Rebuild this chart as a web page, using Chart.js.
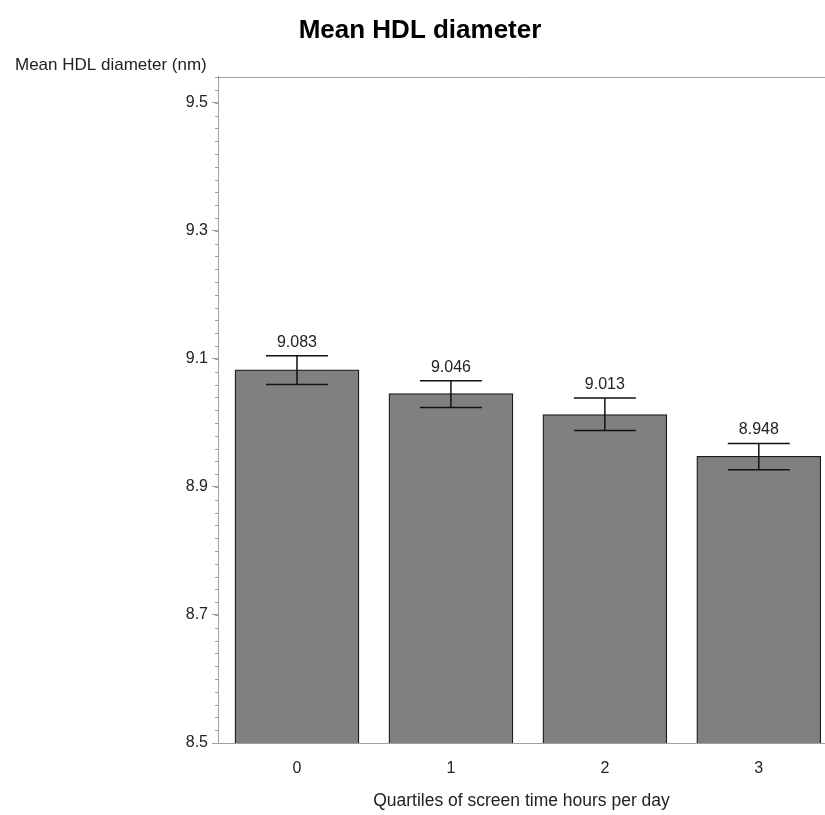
<!DOCTYPE html>
<html><head><meta charset="utf-8">
<script src="https://cdn.jsdelivr.net/npm/chart.js@4.4.0/dist/chart.umd.min.js"></script>
<style>html,body{margin:0;padding:0;background:#fff}#wrap{width:825px;height:815px}</style>
</head><body><div id="wrap"><canvas id="c" width="825" height="815"></canvas></div>
<script>
const categories = [0, 1, 2, 3];
const meanValues = [9.083, 9.046, 9.013, 8.948];
const upperLimits = [9.105, 9.066, 9.039, 8.968];
const lowerLimits = [9.060, 9.024, 8.988, 8.927];
const yTickValues = [8.5, 8.7, 8.9, 9.1, 9.3, 9.5];
const yMinorStep = 0.02;

const FONT = "'Liberation Sans', Arial, sans-serif";
const AXIS_COLOR = '#a0a0a0';

const extrasPlugin = {
  id: 'extras',
  afterDraw(chart) {
    const ctx = chart.ctx;
    const ys = chart.scales.y;
    const ca = chart.chartArea;
    ctx.save();
    ctx.strokeStyle = AXIS_COLOR;
    ctx.lineWidth = 1;
    ctx.beginPath();
    ctx.moveTo(ca.left, Math.round(ca.top) + 0.5);
    ctx.lineTo(ca.right, Math.round(ca.top) + 0.5);
    ctx.stroke();
    const n = Math.round((ys.max - ys.min) / yMinorStep);
    ctx.beginPath();
    for (let k = 0; k <= n; k++) {
      const v = ys.min + k * yMinorStep;
      const py = Math.round(ys.getPixelForValue(v)) + 0.5;
      ctx.moveTo(ca.left - 3, py);
      ctx.lineTo(ca.left, py);
    }
    ctx.stroke();
    ctx.restore();
  },
  afterDatasetsDraw(chart) {
    const ctx = chart.ctx;
    const ys = chart.scales.y;
    const meta = chart.getDatasetMeta(0);
    ctx.save();
    ctx.strokeStyle = '#111';
    ctx.lineWidth = 1.5;
    ctx.fillStyle = '#222';
    ctx.font = '16px ' + FONT;
    ctx.textAlign = 'center';
    ctx.textBaseline = 'alphabetic';
    meta.data.forEach((bar, i) => {
      const x = bar.x;
      const half = bar.width / 4;
      const yu = ys.getPixelForValue(upperLimits[i]);
      const yl = ys.getPixelForValue(lowerLimits[i]);
      ctx.beginPath();
      ctx.moveTo(x, yu); ctx.lineTo(x, yl);
      ctx.moveTo(x - half, yu); ctx.lineTo(x + half, yu);
      ctx.moveTo(x - half, yl); ctx.lineTo(x + half, yl);
      ctx.stroke();
      ctx.fillText(meanValues[i].toFixed(3), x, yu - 9);
    });
    ctx.restore();
  }
};

new Chart(document.getElementById('c'), {
  type: 'bar',
  data: {
    datasets: [{
      data: categories.map((c, i) => ({ x: c, y: meanValues[i] })),
      backgroundColor: '#808080',
      borderColor: '#1a1a1a',
      borderWidth: 1.3,
      barThickness: 124
    }]
  },
  options: {
    responsive: false,
    animation: false,
    layout: { padding: { left: 15, right: 0, top: 0, bottom: 0 } },
    plugins: {
      legend: { display: false },
      tooltip: { enabled: false },
      title: {
        display: true,
        text: 'Mean HDL diameter',
        color: '#000',
        font: { family: FONT, size: 26, weight: 'bold', lineHeight: 1.2 },
        padding: { top: 15, bottom: 9 }
      },
      subtitle: {
        display: true,
        text: 'Mean HDL diameter (nm)',
        align: 'start',
        color: '#222',
        font: { family: FONT, size: 17, lineHeight: 1.2 },
        padding: { top: 0, bottom: 1 }
      }
    },
    scales: {
      x: {
        type: 'linear',
        min: -0.513,
        max: 3.43,
        offset: false,
        afterBuildTicks: (s) => { s.ticks = categories.map(v => ({ value: v })); },
        afterFit: (s) => { s.height = 72; },
        grid: { display: true, drawOnChartArea: false, drawTicks: false, offset: false },
        border: { display: true, color: AXIS_COLOR, width: 1 },
        ticks: {
          padding: 16,
          color: '#222',
          font: { family: FONT, size: 16 },
          callback: (v) => String(v)
        },
        title: {
          display: true,
          text: 'Quartiles of screen time hours per day',
          color: '#222',
          font: { family: FONT, size: 17.5, lineHeight: 1.2 },
          padding: { top: 0, bottom: 3 }
        }
      },
      y: {
        min: 8.5,
        max: 9.541,
        afterBuildTicks: (s) => { s.ticks = yTickValues.map(v => ({ value: v })); },
        afterFit: (s) => { s.width = 203; },
        grid: { drawOnChartArea: false, drawTicks: true, tickLength: 6, color: AXIS_COLOR },
        border: { display: true, color: AXIS_COLOR, width: 1 },
        ticks: {
          padding: 4,
          color: '#222',
          font: { family: FONT, size: 16 },
          callback: (v) => Number(v).toFixed(1)
        }
      }
    }
  },
  plugins: [extrasPlugin]
});
</script>
</body></html>
